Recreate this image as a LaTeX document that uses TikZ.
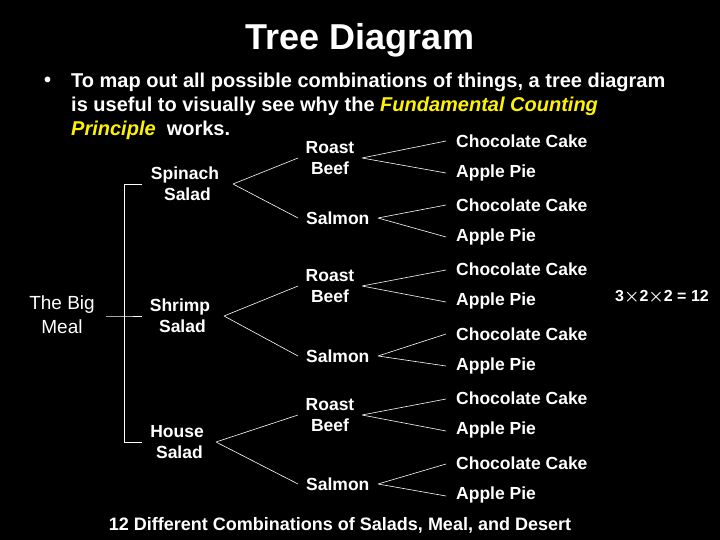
\documentclass[tikz,border=0pt]{standalone}
\usepackage{fontspec}
\setmainfont{Liberation Sans}
\begin{document}
\begin{tikzpicture}[x=1pt,y=-1pt,
  lbl/.style={text=white,font=\bfseries\fontsize{17.5}{21}\selectfont,inner sep=0pt,align=center},
  lft/.style={lbl,anchor=west},
  ln/.style={draw=white,line width=0.6pt}]
\fill[black] (0,0) rectangle (720,540);
\useasboundingbox (0,0) rectangle (720,540);
\node[text=white,font=\bfseries\fontsize{36}{40}\selectfont] (title) at (360,40) {Tree Diagram};
\node[text=white,font=\bfseries\fontsize{20}{24}\selectfont,anchor=west,inner sep=0pt] (b) at (44,82) {•};
\begin{scope}[every node/.style={text=white,font=\bfseries\fontsize{20}{24}\selectfont,anchor=west,inner sep=0pt}]
\node (l1) at (71,82) {To map out all possible combinations of things, a tree diagram};
\node (l2) at (71,106) {is useful to visually see why the \textcolor{yellow}{\itshape Fundamental Counting}};
\node (l3) at (71,130) {\textcolor{yellow}{\itshape Principle}\ \ works.};
\end{scope}
\node[text=white,font=\fontsize{19}{24}\selectfont,align=center,inner sep=0pt] (meal) at (62,315) {The Big\\Meal};
\node[lbl] (sp) at (185,184) {Spinach\\\ Salad};
\node[lbl] (sh) at (180,316) {Shrimp\\\ Salad};
\node[lbl] (ho) at (177,442) {House\\\ Salad};
\coordinate (bt) at (124,184); \coordinate (bb) at (124,442); \coordinate (bm) at (124,316);
\coordinate (st) at (106,316);
\draw[ln] (142,184) -- (bt) -- (bb) -- (142,442);
\draw[ln] (st) -- (bm) -- (142,316);
\foreach \i/\sx/\sy/\rb/\sa in {1/233/184/158/218, 2/224/316/286/356, 3/216/442/415/484}{
  \node[lbl] (rb\i) at (330,\rb) {Roast\\Beef};
  \node[lft] (sa\i) at (306,\sa) {Salmon};
  \coordinate (ap\i) at (\sx,\sy);
  \coordinate (rba\i) at (362,\rb);
  \coordinate (saa\i) at (378,\sa);
  \draw[ln] (ap\i) -- (298,\rb) (ap\i) -- (298,\sa);
}
\foreach \y/\j in {141/1,205/2,269/3,334/4,398/5,463/6}{
  \node[lft] (cc\j) at (456,\y) {Chocolate Cake};
  \node[lft] (pie\j) at (456,\y+32) {Apple Pie};
}
\draw[ln] (rba1) -- (446,141) (rba1) -- (446,173);
\draw[ln] (saa1) -- (446,205) (saa1) -- (446,237);
\draw[ln] (rba2) -- (446,270) (rba2) -- (446,302);
\draw[ln] (saa2) -- (446,334) (saa2) -- (446,366);
\draw[ln] (rba3) -- (446,399) (rba3) -- (446,431);
\draw[ln] (saa3) -- (446,464) (saa3) -- (446,496);
\node[text=white,font=\bfseries\boldmath\fontsize{16}{20}\selectfont] (res) at (662,297) {3$\times$2$\times$2 = 12};
\node[text=white,font=\bfseries\fontsize{18}{22}\selectfont] (foot) at (340,525) {12 Different Combinations of Salads, Meal, and Desert};
\end{tikzpicture}
\end{document}
